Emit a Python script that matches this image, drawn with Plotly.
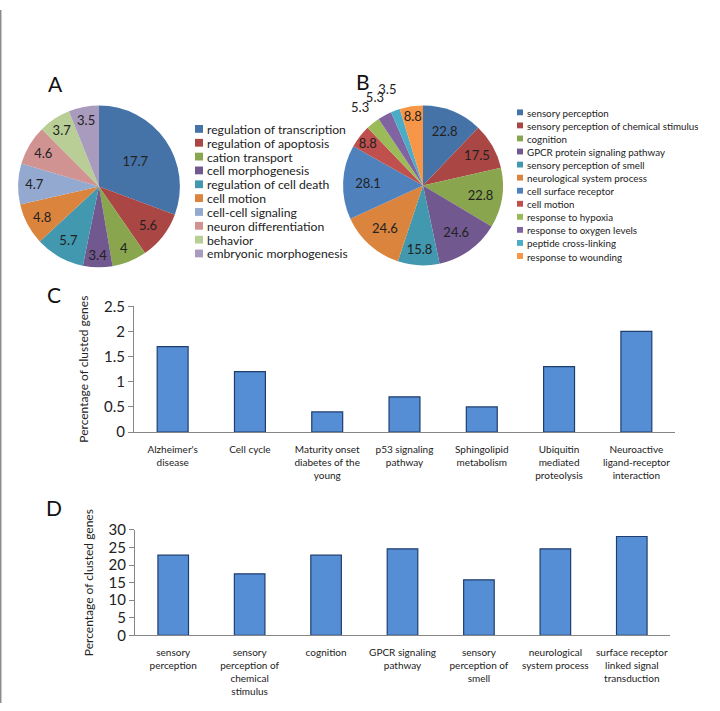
import plotly.graph_objects as go

# ---------------- data ----------------
pie_a_labels = ["regulation of transcription", "regulation of apoptosis", "cation transport",
                "cell morphogenesis", "regulation of cell death", "cell motion",
                "cell-cell signaling", "neuron differentiation", "behavior",
                "embryonic morphogenesis"]
pie_a_values = [17.7, 5.6, 4, 3.4, 5.7, 4.8, 4.7, 4.6, 3.7, 3.5]
pie_a_colors = ["#4572A7", "#AA4643", "#89A54E", "#71588F", "#4198AF", "#DB843D",
                "#93A9CF", "#D19392", "#B9CD96", "#A99BBD"]

pie_b_labels = ["sensory perception", "sensory perception of chemical stimulus", "cognition",
                "GPCR protein signaling pathway", "sensory perception of smell",
                "neurological system process", "cell surface receptor", "cell motion",
                "response to hypoxia", "response to oxygen levels", "peptide cross-linking",
                "response to wounding"]
pie_b_values = [22.8, 17.5, 22.8, 24.6, 15.8, 24.6, 28.1, 8.8, 5.3, 5.3, 3.5, 8.8]
pie_b_colors = ["#4572A7", "#AA4643", "#89A54E", "#71588F", "#4198AF", "#DB843D",
                "#4F81BD", "#C0504D", "#9BBB59", "#8064A2", "#4BACC6", "#F79646"]
# which slice labels sit outside the pie (small slices)
pie_b_outside = [False] * 8 + [True, True, True, False]

bar_c_categories = ["Alzheimer's<br>disease", "Cell cycle", "Maturity onset<br>diabetes of the<br>young",
                    "p53 signaling<br>pathway", "Sphingolipid<br>metabolism",
                    "Ubiquitin<br>mediated<br>proteolysis", "Neuroactive<br>ligand-receptor<br>interaction"]
bar_c_values = [1.7, 1.2, 0.4, 0.7, 0.5, 1.3, 2.0]

bar_d_categories = ["sensory<br>perception", "sensory<br>perception of<br>chemical<br>stimulus",
                    "cognition", "GPCR signaling<br>pathway", "sensory<br>perception of<br>smell",
                    "neurological<br>system process", "surface receptor<br>linked signal<br>transduction"]
bar_d_values = [22.8, 17.5, 22.8, 24.6, 15.8, 24.6, 28.1]

y_title = "Percentage of clusted genes"

# ---------------- figure ----------------
W, H = 720, 711
FONT = "Lato"
TXT = "#222222"
AX = "#868686"

def px_x(x):
    return x / W

def px_y(y):
    return 1 - y / H

fig = go.Figure()

fig.add_trace(go.Pie(
    labels=pie_a_labels, values=pie_a_values, sort=False, direction="clockwise", rotation=0,
    marker=dict(colors=pie_a_colors, line=dict(width=0)),
    text=[str(v) for v in pie_a_values], textinfo="text", textposition="inside",
    insidetextorientation="horizontal",
    textfont=dict(family=FONT, size=13, color=TXT),
    domain=dict(x=[px_x(16), px_x(182)], y=[px_y(264), px_y(98)]),
    showlegend=False, hoverinfo="label+value",
))

# pie B
bcx, bcy, br = 423, 180, 82
fig.add_trace(go.Pie(
    labels=pie_b_labels, values=pie_b_values, sort=False, direction="clockwise", rotation=0,
    marker=dict(colors=pie_b_colors, line=dict(width=0)),
    text=["" if o else str(v) for v, o in zip(pie_b_values, pie_b_outside)],
    textinfo="text", textposition="inside",
    insidetextorientation="horizontal",
    textfont=dict(family=FONT, size=13, color=TXT),
    domain=dict(x=[px_x(bcx - br), px_x(bcx + br)], y=[px_y(bcy + br), px_y(bcy - br)]),
    showlegend=False, hoverinfo="label+value",
))
# transparent ring around pie B carrying the outside labels of the small slices
rr = 112
fig.add_trace(go.Pie(
    labels=pie_b_labels, values=pie_b_values, sort=False, direction="clockwise", rotation=0,
    hole=br / rr,
    marker=dict(colors=["rgba(0,0,0,0)"] * len(pie_b_values), line=dict(width=0)),
    text=[str(v) if o else "" for v, o in zip(pie_b_values, pie_b_outside)],
    textinfo="text", textposition="inside", insidetextorientation="horizontal",
    textfont=dict(family=FONT, size=13, color=TXT),
    domain=dict(x=[px_x(bcx - rr), px_x(bcx + rr)], y=[px_y(bcy + rr), px_y(bcy - rr)]),
    showlegend=False, hoverinfo="skip",
))

bar_style = dict(marker=dict(color="#558ED5", line=dict(color="#1F3E6E", width=1.2)),
                 width=0.4, showlegend=False)

fig.add_trace(go.Bar(x=bar_c_categories, y=bar_c_values, xaxis="x", yaxis="y", **bar_style))
fig.add_trace(go.Bar(x=bar_d_categories, y=bar_d_values, xaxis="x2", yaxis="y2", **bar_style))

xcommon = dict(showline=True, linecolor=AX, linewidth=1, ticks="", showgrid=False,
               tickfont=dict(family=FONT, size=10, color=TXT), ticklabelstandoff=8,
               fixedrange=True)
ycommon = dict(showline=True, linecolor=AX, linewidth=1, ticks="outside", ticklen=5,
               tickcolor=AX, showgrid=False, zeroline=False,
               tickfont=dict(family=FONT, size=15, color=TXT), fixedrange=True,
               title=dict(text=y_title, font=dict(family=FONT, size=12, color=TXT), standoff=12))

fig.update_layout(
    width=W, height=H, margin=dict(l=0, r=0, t=0, b=0),
    paper_bgcolor="white", plot_bgcolor="white",
    uniformtext=dict(minsize=13, mode="show"),
    xaxis=dict(domain=[px_x(134), px_x(675)], anchor="y", **xcommon),
    yaxis=dict(domain=[px_y(433), px_y(304)], anchor="x", range=[0, 2.5], dtick=0.5, **ycommon),
    xaxis2=dict(domain=[px_x(135), px_x(670)], anchor="y2", **xcommon),
    yaxis2=dict(domain=[px_y(641.7), px_y(533.3)], anchor="x2", range=[0, 30], dtick=5, **ycommon),
    bargap=0.6,
)

annotations = []
shapes = []

# panel letters
for letter, (lx, ly) in {"A": (55, 75), "B": (363, 73), "C": (54, 292), "D": (54, 510)}.items():
    annotations.append(dict(text=letter, x=px_x(lx), y=px_y(ly), xref="paper", yref="paper",
                            showarrow=False, xanchor="center", yanchor="middle",
                            font=dict(family=FONT, size=21, color="#111111")))

# compact legends (spacing like the original)
def add_legend(labels, colors, x0, y0, step, size, fsize):
    for i, (lab, col) in enumerate(zip(labels, colors)):
        yc = y0 + i * step
        shapes.append(dict(type="rect", xref="paper", yref="paper",
                           x0=px_x(x0), x1=px_x(x0 + size),
                           y0=px_y(yc + size / 2), y1=px_y(yc - size / 2),
                           fillcolor=col, line=dict(width=0)))
        annotations.append(dict(text=lab, x=px_x(x0 + size + 3), y=px_y(yc), xref="paper", yref="paper",
                                showarrow=False, xanchor="left", yanchor="middle",
                                height=int(step), borderpad=0,
                                font=dict(family=FONT, size=fsize, color=TXT)))

add_legend(pie_a_labels, pie_a_colors, 195, 122, 14.2, 8, 12.2)
add_legend(pie_b_labels, pie_b_colors, 517, 105, 13.4, 6, 9.8)

# thin grey border on the left edge
shapes.append(dict(type="line", xref="paper", yref="paper", x0=0.001, x1=0.001, y0=0, y1=1,
                   line=dict(color="#8c8c8c", width=1.5)))

fig.update_layout(annotations=annotations, shapes=shapes)

fig.write_html("out.html", config={"displayModeBar": False},
               post_script="document.body.style.margin='0';document.body.style.overflow='hidden';")
